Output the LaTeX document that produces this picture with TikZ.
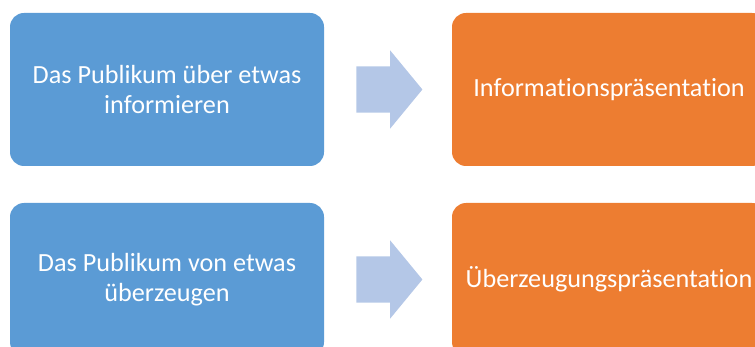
\documentclass[tikz,border=0pt]{standalone}
\usepackage{fontspec}
\setmainfont{Carlito}[Ligatures=NoCommon]
\usetikzlibrary{shapes.arrows,calc}
\definecolor{boxblue}{HTML}{5B9BD5}
\definecolor{boxorange}{HTML}{ED7D31}
\definecolor{arrowblue}{HTML}{B4C7E7}
\tikzset{
	stepbox/.style = {rectangle, rounded corners=14pt, text=white, align=center,
		minimum width=314pt, minimum height=153pt, inner sep=0pt,
		font=\fontsize{26.2}{30}\selectfont},
	goal/.style = {stepbox, fill=boxblue},
	kind/.style = {stepbox, fill=boxorange},
	blockarrow/.style = {single arrow, fill=arrowblue, inner sep=23pt,
		minimum height=66pt, single arrow head extend=16pt,
		single arrow tip angle=101, anchor=tail}
}
\begin{document}
\begin{tikzpicture}[x=1pt,y=-1pt]
\useasboundingbox (0,0) rectangle (755,347);
\clip (0,0) rectangle (755,347);
% aims on the left, kinds of talk on the right
\node [goal] (aim1) at (167,89.5) {Das Publikum über etwas\\informieren};
\node [kind] (type1) at (609,89.5) {Informationspräsentation};
\node [goal] (aim2) at (167,279.5) {Das Publikum von etwas\\überzeugen};
\node [kind] (type2) at (609,279.5) {Überzeugungspräsentation};
% block arrows in between
\node [blockarrow] (arr1) at ($(aim1.east)+(32,0)$) {};
\node [blockarrow] (arr2) at ($(aim2.east)+(32,0)$) {};
\end{tikzpicture}
\end{document}
